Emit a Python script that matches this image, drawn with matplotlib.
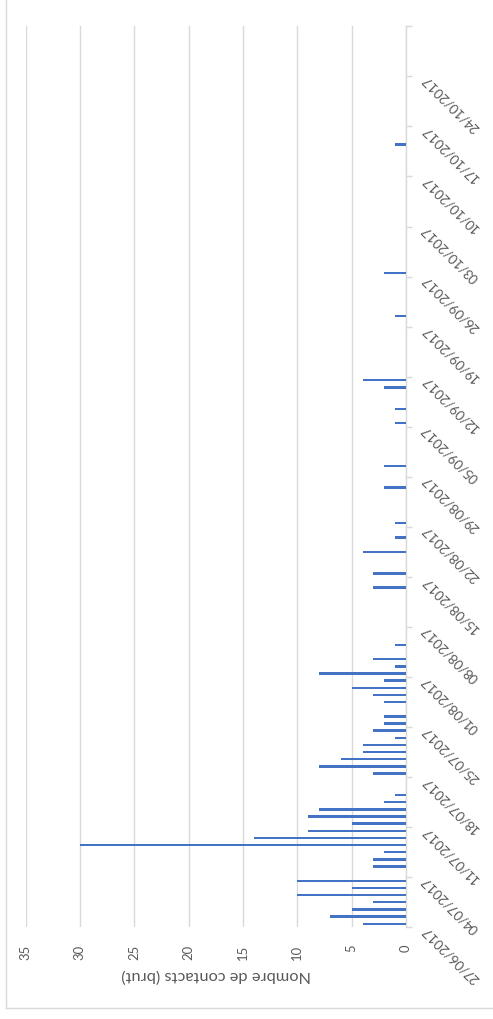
import datetime as dt
import matplotlib
matplotlib.use("Agg")
import matplotlib.pyplot as plt
import matplotlib.dates as mdates
from matplotlib.lines import Line2D

plt.rcParams['font.family'] = ['Lato', 'DejaVu Sans']

# Daily number of contacts (raw counts)
contact_dates = [
    "2017-06-27", "2017-06-28", "2017-06-29", "2017-06-30", "2017-07-01",
    "2017-07-02", "2017-07-03", "2017-07-05", "2017-07-06", "2017-07-07",
    "2017-07-08", "2017-07-09", "2017-07-10", "2017-07-11", "2017-07-12",
    "2017-07-13", "2017-07-14", "2017-07-15", "2017-07-18", "2017-07-19",
    "2017-07-20", "2017-07-21", "2017-07-22", "2017-07-23", "2017-07-24",
    "2017-07-25", "2017-07-26", "2017-07-28", "2017-07-29", "2017-07-30",
    "2017-07-31", "2017-08-01", "2017-08-02", "2017-08-03", "2017-08-05",
    "2017-08-13", "2017-08-15", "2017-08-18", "2017-08-20", "2017-08-22",
    "2017-08-27", "2017-08-30", "2017-09-05", "2017-09-07", "2017-09-10",
    "2017-09-11", "2017-09-20", "2017-09-26", "2017-10-14",
]
contact_counts = [
    4, 7, 5, 3, 10,
    5, 10, 3, 3, 2,
    30, 14, 9, 5, 9,
    8, 2, 1, 3, 8,
    6, 4, 4, 1, 3,
    2, 2, 2, 3, 5,
    2, 8, 1, 3, 1,
    3, 3, 4, 1, 1,
    2, 2, 1, 1, 2,
    4, 1, 2, 1,
]

axis_start = "2017-06-27"
axis_end = "2017-10-31"
tick_step_days = 7
value_ticks = [0, 5, 10, 15, 20, 25, 30, 35]
value_title = "Nombre de contacts (brut)"

BLUE = "#4472C4"
GRID = "#D9D9D9"
TEXT = "#595959"

W, H, DPI = 493, 1020, 100
fig = plt.figure(figsize=(W / DPI, H / DPI), dpi=DPI)
fig.patch.set_facecolor("white")

left, right = 25.5 / W, 406 / W
top, bottom = 1 - 27.3 / H, 1 - 928.3 / H
ax = fig.add_axes([left, bottom, right - left, top - bottom])

def to_num(s):
    return mdates.date2num(dt.datetime.strptime(s, "%Y-%m-%d"))

y_start, y_end = to_num(axis_start), to_num(axis_end)
y_vals = [to_num(d) + 0.5 for d in contact_dates]

ax.barh(y_vals, contact_counts, height=0.34, color=BLUE, zorder=3)

ax.set_xlim(max(value_ticks), 0)
ax.set_ylim(y_start, y_end)

# value axis: labels below, rotated
ax.set_xticks(value_ticks)
ax.set_xticklabels([str(v) for v in value_ticks], rotation=90, color=TEXT, fontsize=9.4)
ax.tick_params(axis="x", length=0, pad=12)
for lab in ax.get_xticklabels():
    lab.set_va("top")
    lab.set_ha("center")
ax.grid(axis="x", color=GRID, linewidth=1.0, zorder=0)

# date axis on the right
tick_nums = []
t = y_start
while t <= y_end + 1e-9:
    tick_nums.append(t)
    t += tick_step_days
tick_labels = [mdates.num2date(v).strftime("%d/%m/%Y") for v in tick_nums]
tick_labels[-1] = ""
ax.yaxis.tick_right()
ax.set_yticks(tick_nums)
ax.set_yticklabels(tick_labels, fontsize=9.7, color=TEXT)
ax.tick_params(axis="y", length=4, width=1.0, color=GRID, pad=9)
for lab in ax.get_yticklabels():
    lab.set_rotation(135)
    lab.set_rotation_mode("anchor")
    lab.set_ha("right")
    lab.set_va("center")

for side in ("top", "left", "bottom"):
    ax.spines[side].set_visible(False)
ax.spines["right"].set_color(GRID)
ax.spines["right"].set_linewidth(1.0)

fig.text((25.5 + 406) / 2 / W, 1 - 975 / H, value_title, rotation=180,
         ha="center", va="center", fontsize=11.8, color=TEXT)

# chart frame (left and bottom edges)
fig.add_artist(Line2D([5.5 / W, 5.5 / W], [1, 1 - 1009 / H], color=GRID, lw=1.0,
                      transform=fig.transFigure))
fig.add_artist(Line2D([5.5 / W, 1], [1 - 1009 / H, 1 - 1009 / H], color=GRID, lw=1.0,
                      transform=fig.transFigure))

fig.savefig("out.png", dpi=DPI)
